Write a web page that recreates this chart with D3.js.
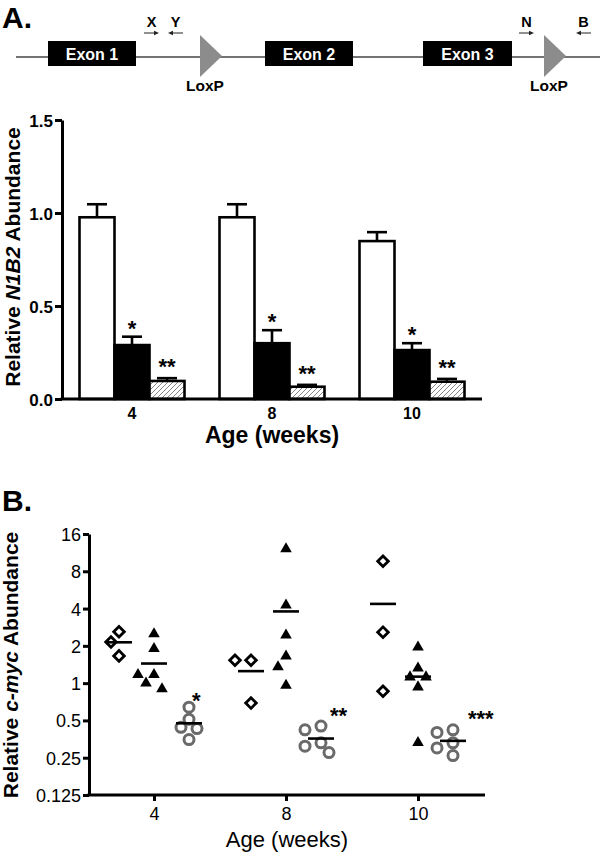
<!DOCTYPE html>
<html><head><meta charset="utf-8">
<script src="https://cdn.jsdelivr.net/npm/d3@7"></script>
<style>
body{margin:0;background:#fff}
svg{display:block}
text{font-family:"Liberation Sans", Arial, Helvetica, sans-serif}
</style>
</head><body>
<svg id="chart" width="600" height="853"></svg>
<script>
// ---------- Gene diagram (schematic units) ----------
const exonNames  = ["Exon 1", "Exon 2", "Exon 3"];
const exonStarts = [32, 249, 407];
const exonEnds   = [120, 337, 496];
const loxpSites  = [184, 528];
const primerNames = ["X", "Y", "N", "B"];
const primerSites = [128, 167, 503, 575];
const primerDirs  = [1, -1, 1, -1];

// ---------- Panel A: relative N1B2 abundance ----------
const ages = ["4", "8", "10"];
const seriesA = ["open", "filled", "hatched"];
const openMean    = [0.977, 0.977, 0.849];
const openErr     = [0.070, 0.070, 0.048];
const filledMean  = [0.290, 0.300, 0.263];
const filledErr   = [0.045, 0.070, 0.037];
const hatchedMean = [0.097, 0.066, 0.093];
const hatchedErr  = [0.015, 0.010, 0.015];
const filledSig   = ["*", "*", "*"];
const hatchedSig  = ["**", "**", "**"];
const yTicksA = [0, 0.5, 1.0, 1.5];

// ---------- Panel B: relative c-myc abundance ----------
const diamondVals  = [[2.6, 2.15, 1.66], [1.53, 1.53, 0.69], [9.65, 2.58, 0.86]];
const triangleVals = [[2.5, 1.9, 1.17, 1.17, 1.0, 0.9], [12.1, 4.26, 2.44, 1.65, 1.35, 0.96], [1.95, 1.32, 1.12, 1.12, 0.93, 0.33]];
const circleVals   = [[0.64, 0.51, 0.44, 0.43, 0.35], [0.45, 0.42, 0.33, 0.31, 0.275], [0.42, 0.40, 0.33, 0.30, 0.26]];
const circleSig    = ["*", "**", "***"];
const yTicksB = [0.125, 0.25, 0.5, 1, 2, 4, 8, 16];
const yTickLabelsB = ["0.125", "0.25", "0.5", "1", "2", "4", "8", "16"];

const svg = d3.select("#chart");
const FONT = '"Liberation Sans", Arial, sans-serif';

// ================= Gene diagram =================
const gx = d3.scaleLinear().domain([0, 584]).range([16, 600]);
const gA = svg.append("g");
gA.append("text").attr("x", 2).attr("y", 28).attr("font-size", 30).attr("font-weight", "bold").text("A.");
gA.append("line").attr("x1", gx(0)).attr("x2", gx(584)).attr("y1", 57).attr("y2", 57)
  .attr("stroke", "#444").attr("stroke-width", 1.3);
exonNames.forEach((n, i) => {
  gA.append("rect").attr("x", gx(exonStarts[i])).attr("y", 41)
    .attr("width", gx(exonEnds[i]) - gx(exonStarts[i])).attr("height", 25).attr("fill", "#000");
  gA.append("text").attr("x", (gx(exonStarts[i]) + gx(exonEnds[i])) / 2).attr("y", 59.5)
    .attr("text-anchor", "middle").attr("fill", "#fff").attr("font-weight", "bold").attr("font-size", 16).text(n);
});
loxpSites.forEach(s => {
  const x0 = gx(s);
  gA.append("path").attr("d", `M${x0},35 L${x0 + 22},56 L${x0},77 Z`).attr("fill", "#8c8c8c");
  gA.append("text").attr("x", x0 + 5).attr("y", 91).attr("text-anchor", "middle")
    .attr("font-size", 15.5).attr("font-weight", "bold").text("LoxP");
});
primerNames.forEach((n, i) => {
  const t = gx(primerSites[i]), d = primerDirs[i], h = t + d * 15;
  gA.append("line").attr("x1", t).attr("x2", h - d * 3).attr("y1", 33).attr("y2", 33)
    .attr("stroke", "#222").attr("stroke-width", 1);
  gA.append("path").attr("d", `M${h},33 L${h - d * 5},30.8 L${h - d * 5},35.2 Z`).attr("fill", "#222");
  gA.append("text").attr("x", t + d * 7.5).attr("y", 27).attr("text-anchor", "middle")
    .attr("font-size", 14.5).attr("font-weight", "bold").text(n);
});

// ================= Panel A =================
const yA = d3.scaleLinear().domain([0, 1.5]).range([399, 120]);
const xA = d3.scaleBand().domain(ages).range([62, 482]).paddingInner(0.25).paddingOuter(0.125);
const xSubA = d3.scaleBand().domain(seriesA).range([0, xA.bandwidth()]);

const defs = svg.append("defs");
const pat = defs.append("pattern").attr("id", "hatch").attr("patternUnits", "userSpaceOnUse")
  .attr("width", 5).attr("height", 5);
pat.append("rect").attr("width", 5).attr("height", 5).attr("fill", "#fff");
pat.append("path").attr("d", "M-1,1 l2,-2 M0,5 l5,-5 M4,6 l2,-2").attr("stroke", "#666").attr("stroke-width", 0.8);

const barData = [];
const means = {open: openMean, filled: filledMean, hatched: hatchedMean};
const errs = {open: openErr, filled: filledErr, hatched: hatchedErr};
ages.forEach((a, i) => seriesA.forEach(s => barData.push({age: a, s, v: means[s][i], e: errs[s][i], i})));
const fills = {open: "#fff", filled: "#000", hatched: "url(#hatch)"};

const gBars = svg.append("g");
gBars.selectAll("g.err").data(barData).join("g").each(function(d) {
  const cx = xA(d.age) + xSubA(d.s) + xSubA.bandwidth() / 2;
  const g = d3.select(this);
  g.append("line").attr("x1", cx).attr("x2", cx).attr("y1", yA(d.v)).attr("y2", yA(d.v + d.e))
    .attr("stroke", "#000").attr("stroke-width", 2.6);
  g.append("line").attr("x1", cx - 10).attr("x2", cx + 10).attr("y1", yA(d.v + d.e)).attr("y2", yA(d.v + d.e))
    .attr("stroke", "#000").attr("stroke-width", 2.6);
});
gBars.selectAll("rect.bar").data(barData).join("rect")
  .attr("x", d => xA(d.age) + xSubA(d.s))
  .attr("y", d => yA(d.v))
  .attr("width", xSubA.bandwidth())
  .attr("height", d => yA(0) - yA(d.v))
  .attr("fill", d => fills[d.s])
  .attr("stroke", "#000").attr("stroke-width", 2.6);

// significance stars
ages.forEach((a, i) => {
  const fx = xA(a) + xSubA("filled") + xSubA.bandwidth() / 2;
  const hx = xA(a) + xSubA("hatched") + xSubA.bandwidth() / 2;
  svg.append("text").attr("x", fx).attr("y", yA(filledMean[i] + filledErr[i]) - 1)
    .attr("text-anchor", "middle").attr("font-size", 22).attr("font-weight", "bold").text(filledSig[i]);
  svg.append("text").attr("x", hx).attr("y", yA(hatchedMean[i] + hatchedErr[i]) - 4)
    .attr("text-anchor", "middle").attr("font-size", 22).attr("font-weight", "bold").text(hatchedSig[i]);
});

// axes A
const axA = svg.append("g").attr("transform", "translate(62,0)")
  .call(d3.axisLeft(yA).tickValues(yTicksA).tickFormat(d3.format(".1f")).tickSize(7).tickSizeOuter(0).tickPadding(2));
axA.select(".domain").attr("stroke-width", 3);
axA.selectAll(".tick line").attr("stroke-width", 3);
axA.selectAll(".tick text").attr("font-size", 17).attr("font-weight", "bold").attr("font-family", FONT).attr("fill", "#000").attr("dy", "0.36em");
svg.append("line").attr("x1", 60.5).attr("x2", 482).attr("y1", yA(0)).attr("y2", yA(0))
  .attr("stroke", "#000").attr("stroke-width", 3);
ages.forEach(a => {
  svg.append("text").attr("x", xA(a) + xA.bandwidth() / 2).attr("y", 419).attr("text-anchor", "middle")
    .attr("font-size", 16).attr("font-weight", "bold").text(a);
});
svg.append("text").attr("x", 272).attr("y", 443).attr("text-anchor", "middle")
  .attr("font-size", 23).attr("font-weight", "bold").text("Age (weeks)");
const ylA = svg.append("text").attr("transform", "translate(20,257) rotate(-90)").attr("text-anchor", "middle")
  .attr("font-size", 21).attr("font-weight", "bold");
ylA.append("tspan").text("Relative ");
ylA.append("tspan").attr("font-style", "italic").text("N1B2");
ylA.append("tspan").text(" Abundance");

// ================= Panel B =================
svg.append("text").attr("x", 2).attr("y", 511).attr("font-size", 30).attr("font-weight", "bold").text("B.");

const yB = d3.scaleLog().base(2).domain([0.125, 16]).range([795, 534]);
const xB = d3.scalePoint().domain(ages).range([154, 418]);
const seriesB = ["diamond", "triangle", "circle"];
const offB = d3.scalePoint().domain(seriesB).range([-35, 35]);

function swarm(vals, step, minDist) {
  const pts = vals.map(v => ({v, y: yB(v)})).sort((a, b) => a.y - b.y);
  const placed = [];
  pts.forEach(p => {
    for (let k = 0; k < 20; k++) {
      const off = k === 0 ? 0 : (k % 2 ? -1 : 1) * Math.ceil(k / 2) * step;
      if (placed.every(q => Math.hypot(q.off - off, q.y - p.y) >= minDist)) { p.off = off; break; }
    }
    placed.push(p);
  });
  return placed;
}

const gB = svg.append("g");
const valsB = {diamond: diamondVals, triangle: triangleVals, circle: circleVals};
const diamondSym = d3.symbol(d3.symbolSquare, 56)();
const triSym = d3.symbol(d3.symbolTriangle, 58)();

ages.forEach((a, i) => {
  seriesB.forEach(s => {
    const cx = xB(a) + offB(s);
    const pts = swarm(valsB[s][i], 8, s === "diamond" ? 12 : 11);
    const sel = gB.append("g").selectAll("path").data(pts).join("path");
    if (s === "diamond") {
      sel.attr("d", diamondSym).attr("transform", d => `translate(${cx + d.off},${d.y}) rotate(45)`)
        .attr("fill", "#fff").attr("stroke", "#000").attr("stroke-width", 2.8);
    } else if (s === "triangle") {
      sel.attr("d", triSym).attr("transform", d => `translate(${cx + d.off},${d.y})`).attr("fill", "#000");
    } else {
      sel.attr("d", d3.symbol(d3.symbolCircle, Math.PI * 25)()).attr("transform", d => `translate(${cx + d.off},${d.y})`)
        .attr("fill", "#fff").attr("stroke", "#6a6a6a").attr("stroke-width", 3);
    }
    const m = d3.mean(valsB[s][i]);
    gB.append("line").attr("x1", cx - 13).attr("x2", cx + 13).attr("y1", yB(m)).attr("y2", yB(m))
      .attr("stroke", "#000").attr("stroke-width", 2.6);
  });
  const sig = circleSig[i];
  const cm = d3.mean(circleVals[i]);
  svg.append("text").attr("x", xB(a) + offB("circle") + 3 + (sig.length - 1) * 6)
    .attr("y", yB(cm * 1.6) + 10).attr("font-size", 22).attr("font-weight", "bold").text(sig);
});

const axB = svg.append("g").attr("transform", "translate(89,0)")
  .call(d3.axisLeft(yB).tickValues(yTicksB).tickFormat((d, i) => yTickLabelsB[i]).tickSize(6).tickSizeOuter(0).tickPadding(2));
axB.select(".domain").attr("stroke-width", 3);
axB.selectAll(".tick line").attr("stroke-width", 3);
axB.selectAll(".tick text").attr("font-size", 18).attr("font-family", FONT).attr("fill", "#000").attr("dy", "0.36em");

const axBx = svg.append("g").attr("transform", `translate(0,${yB(0.125)})`)
  .call(d3.axisBottom(xB).tickSize(6).tickSizeOuter(0).tickPadding(6));
axBx.select(".domain").remove();
axBx.selectAll(".tick line").attr("stroke-width", 3);
axBx.selectAll(".tick text").attr("font-size", 18).attr("font-family", FONT).attr("fill", "#000");
svg.append("line").attr("x1", 87.5).attr("x2", 485).attr("y1", yB(0.125)).attr("y2", yB(0.125))
  .attr("stroke", "#000").attr("stroke-width", 3);

svg.append("text").attr("x", 287).attr("y", 847).attr("text-anchor", "middle")
  .attr("font-size", 22).text("Age (weeks)");
const ylB = svg.append("text").attr("transform", "translate(18,665) rotate(-90)").attr("text-anchor", "middle")
  .attr("font-size", 21).attr("font-weight", "bold");
ylB.append("tspan").text("Relative ");
ylB.append("tspan").attr("font-style", "italic").text("c-myc");
ylB.append("tspan").text(" Abundance");
</script>
</body></html>
